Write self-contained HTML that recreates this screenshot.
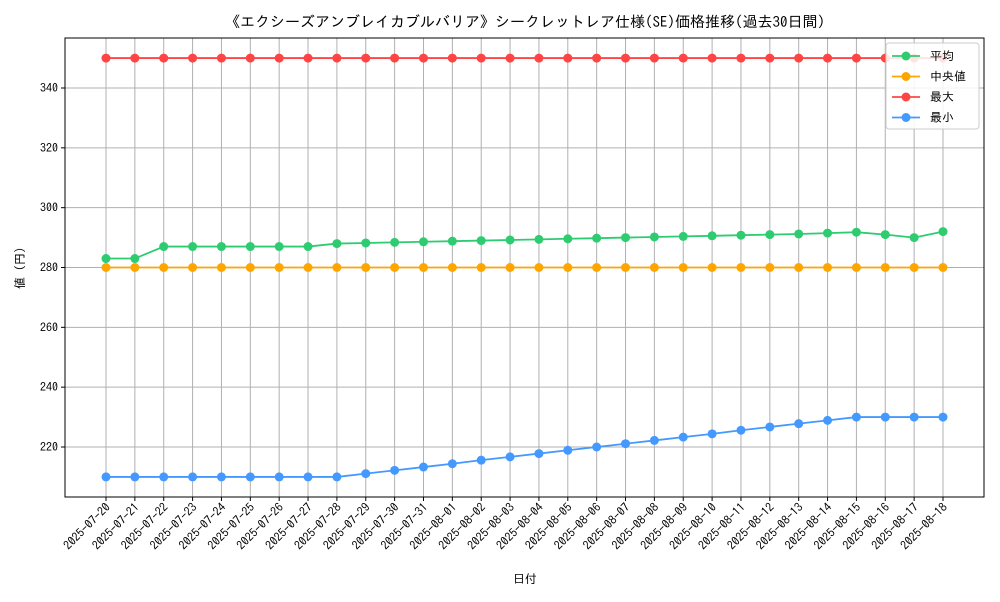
<!DOCTYPE html>
<html><head><meta charset="utf-8"><style>
body{margin:0;background:#fff;font-family:"IPAGothic","Noto Sans CJK JP",sans-serif;}
svg text{font-family:"IPAGothic","Noto Sans CJK JP",sans-serif;}
</style></head><body>
<svg id="chart" width="1000" height="600" xmlns="http://www.w3.org/2000/svg">
<rect width="1000" height="600" fill="#fff"/>
<text x="525" y="27" font-size="15" text-anchor="middle">《エクシーズアンブレイカブルバリア》シークレットレア仕様(SE)価格推移(過去30日間)</text>
<g id="grid"></g><g id="series"></g><g id="axes"></g>
<text x="525" y="583" font-size="12" text-anchor="middle">日付</text>
<text transform="translate(24,268) rotate(-90)" font-size="12" text-anchor="middle">値 (円)</text>
<g id="legend"></g>
</svg>
<script>
const dates=["2025-07-20","2025-07-21","2025-07-22","2025-07-23","2025-07-24","2025-07-25","2025-07-26","2025-07-27","2025-07-28","2025-07-29","2025-07-30","2025-07-31","2025-08-01","2025-08-02","2025-08-03","2025-08-04","2025-08-05","2025-08-06","2025-08-07","2025-08-08","2025-08-09","2025-08-10","2025-08-11","2025-08-12","2025-08-13","2025-08-14","2025-08-15","2025-08-16","2025-08-17","2025-08-18"];
const avgVals=[283,283,287,287,287,287,287,287,288,288.2,288.4,288.6,288.8,289,289.2,289.4,289.6,289.8,290,290.2,290.4,290.6,290.8,291,291.2,291.5,291.8,291,290,292];
const medVals=[280,280,280,280,280,280,280,280,280,280,280,280,280,280,280,280,280,280,280,280,280,280,280,280,280,280,280,280,280,280];
const maxVals=[350,350,350,350,350,350,350,350,350,350,350,350,350,350,350,350,350,350,350,350,350,350,350,350,350,350,350,350,350,350];
const minVals=[210,210,210,210,210,210,210,210,210,211.1,212.2,213.3,214.4,215.6,216.7,217.8,218.9,220,221.1,222.2,223.3,224.4,225.6,226.7,227.8,228.9,230,230,230,230];
const yTicks=[220,240,260,280,300,320,340];
const seriesNames=["平均","中央値","最大","最小"];
const colors=["#2ecc71","#ffa500","#ff4444","#4499ff"];
const NS="http://www.w3.org/2000/svg";
const L=65,R=984,T=38,B=497;
const x=i=>106+i*(943-106)/(dates.length-1);
const y=v=>88+(340-v)*(447-88)/120;
function mk(tag,attrs,parent){const e=document.createElementNS(NS,tag);for(const k in attrs)e.setAttribute(k,attrs[k]);parent.appendChild(e);return e;}
const grid=document.getElementById('grid'),axes=document.getElementById('axes'),ser=document.getElementById('series'),leg=document.getElementById('legend');
dates.forEach((d,i)=>{
 const g=mk('line',{x1:x(i),x2:x(i),y1:T,y2:B,stroke:'#b0b0b0','stroke-width':1},grid);
 
 
 mk('line',{x1:x(i),x2:x(i),y1:B,y2:B+4,stroke:'#000'},axes);
 const t=mk('text',{x:x(i)+5,y:B+11,'font-size':12,'text-anchor':'end',transform:`rotate(-45 ${x(i)+5} ${B+11})`},axes);
 t.textContent=d;
 
 
});
yTicks.forEach(v=>{
 const g=mk('line',{x1:L,x2:R,y1:y(v),y2:y(v),stroke:'#b0b0b0','stroke-width':1},grid);
 
 
 mk('line',{x1:L-4,x2:L,y1:y(v),y2:y(v),stroke:'#000'},axes);
 const t=mk('text',{x:L-7,y:y(v)+4,'font-size':12,'text-anchor':'end'},axes);
 t.textContent=v;
 
 
});
const frame=mk('rect',{x:L,y:T,width:R-L,height:B-T,fill:'none',stroke:'#000','stroke-width':1},axes);


const all=[avgVals,medVals,maxVals,minVals];
const snames=['series-average','series-median','series-max','series-min'];
all.forEach((vals,s)=>{
 const g=mk('g',{},ser);
 
 
 mk('polyline',{points:vals.map((v,i)=>x(i)+','+y(v)).join(' '),fill:'none',stroke:colors[s],'stroke-width':1.8},g);
 vals.forEach((v,i)=>{
  const c=mk('circle',{cx:x(i),cy:y(v),r:4.5,fill:colors[s]},g);
  
  
 });
});
const lb=mk('rect',{x:886,y:43,width:93,height:86,fill:'#fff','fill-opacity':0.85,stroke:'#ccc',rx:3},leg);


seriesNames.forEach((n,s)=>{
 const yy=56+s*20.5;
 const g=mk('g',{},leg);
 
 
 mk('line',{x1:892,x2:920,y1:yy,y2:yy,stroke:colors[s],'stroke-width':1.8},g);
 mk('circle',{cx:906,cy:yy,r:4.5,fill:colors[s]},g);
 const t=mk('text',{x:930,y:yy+4,'font-size':12},g);
 t.textContent=(s===1?' ':'')+n;
});
</script>
</body></html>
